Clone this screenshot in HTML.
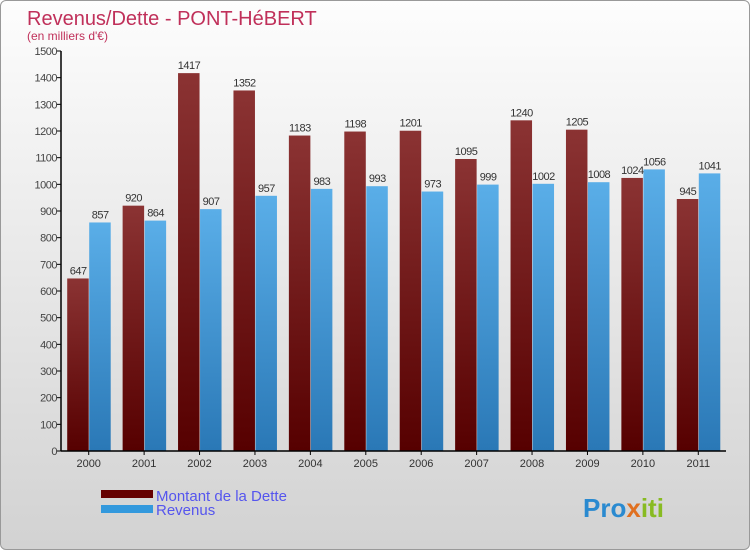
<!DOCTYPE html>
<html><head><meta charset="utf-8"><style>
body{margin:0;width:750px;height:550px;overflow:hidden;font-family:"Liberation Sans",sans-serif}
#c{position:absolute;left:0;top:0;width:748px;height:548px;border:1px solid #999;border-radius:6px;background:linear-gradient(#fdfdfd,#d2d2d2);}
</style></head><body>
<div id="c">
<svg width="750" height="550" id="svg">
<defs>
<linearGradient id="gd" x1="0" y1="0" x2="0" y2="1"><stop offset="0" stop-color="#8b3333"/><stop offset="1" stop-color="#560000"/></linearGradient>
<linearGradient id="gr" x1="0" y1="0" x2="0" y2="1"><stop offset="0" stop-color="#5aaee8"/><stop offset="1" stop-color="#2a78b6"/></linearGradient>
</defs>
<text x="26" y="24" font-size="20" fill="#c0305a">Revenus/Dette - PONT-HéBERT</text>
<text x="26" y="39" font-size="12" fill="#c0305a">(en milliers d'€)</text>
<g id="plot"></g>
<rect x="100" y="489" width="52" height="8" fill="#660000"/>
<rect x="100" y="504" width="52" height="8" fill="#3399dd"/>
<text x="155" y="500" font-size="15" fill="#5555ee">Montant de la Dette</text>
<text x="155" y="514" font-size="15" fill="#5555ee">Revenus</text>
<text x="582" y="516" font-size="26" font-weight="bold" fill="#3399dd"><tspan fill="#2a8ad0">Pro</tspan><tspan fill="#e07020">x</tspan><tspan fill="#88bb22">iti</tspan></text>
</svg></div>
<script>
const years=["2000","2001","2002","2003","2004","2005","2006","2007","2008","2009","2010","2011"];
const dette=[647,920,1417,1352,1183,1198,1201,1095,1240,1205,1024,945];
const revenus=[857,864,907,957,983,993,973,999,1002,1008,1056,1041];
const ticks=[0,100,200,300,400,500,600,700,800,900,1000,1100,1200,1300,1400,1500];
const NS="http://www.w3.org/2000/svg";
const g=document.getElementById('plot');
const x0=60,x1=725,yb=450,yt=50,max=1500;
const y=v=>yb-(yb-yt)*v/max;
const step=(x1-x0)/years.length;
function mk(t,a,txt){const e=document.createElementNS(NS,t);for(const k in a)e.setAttribute(k,a[k]);if(txt!=null)e.textContent=txt;g.appendChild(e);return e;}
ticks.forEach(t=>{
 const l=mk('line',{x1:x0-4,x2:x0,y1:y(t),y2:y(t),stroke:'#000'});
 
 
 const tx=mk('text',{x:x0-4,y:y(t)+4,'font-size':11,'text-anchor':'end',fill:'#444','letter-spacing':'-0.5'},t);
 
 
});
years.forEach((yr,i)=>{
 const c=x0+step*(i+0.5);
 const b1=mk('rect',{x:c-21.5,y:y(dette[i]),width:21.5,height:yb-y(dette[i]),fill:'url(#gd)'});
 
 
 const b2=mk('rect',{x:c+0.5,y:y(revenus[i]),width:21.5,height:yb-y(revenus[i]),fill:'url(#gr)'});
 
 
 const t1=mk('text',{x:c-10.5,y:y(dette[i])-4,'font-size':11,'text-anchor':'middle',fill:'#333','letter-spacing':'-0.5'},dette[i]);
 
 
 const t2=mk('text',{x:c+11.5,y:y(revenus[i])-4,'font-size':11,'text-anchor':'middle',fill:'#333','letter-spacing':'-0.5'},revenus[i]);
 
 
 const tk=mk('line',{x1:c,x2:c,y1:yb,y2:yb+4,stroke:'#000'});
 
 
 const xl=mk('text',{x:c,y:yb+16,'font-size':11,'text-anchor':'middle',fill:'#333'},yr);
 
 
});
const ya=mk('line',{x1:x0,x2:x0,y1:yt,y2:yb,stroke:'#000','stroke-width':1.5});


const xa=mk('line',{x1:x0,x2:x1,y1:yb,y2:yb,stroke:'#000','stroke-width':1.5});


</script>
</body></html>
